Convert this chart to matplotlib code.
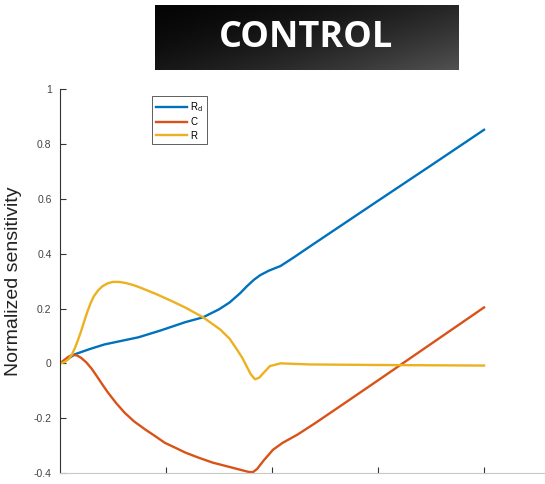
import numpy as np
import matplotlib
matplotlib.use("Agg")
import matplotlib.pyplot as plt

# sensitivity curves (x in arbitrary time units)
x_rd = [0, 0.07, 0.14, 0.28, 0.42, 0.58, 0.74, 0.95, 1.18, 1.35, 1.50, 1.60,
        1.70, 1.76, 1.83, 1.89, 1.97, 2.08, 2.20, 2.36, 3.0, 3.5, 4.0]
rd = [0, 0.015, 0.033, 0.052, 0.069, 0.082, 0.095, 0.120, 0.150, 0.168, 0.197, 0.222,
      0.256, 0.280, 0.305, 0.322, 0.338, 0.355, 0.385, 0.427, 0.593, 0.722, 0.852]

x_c = [0, 0.04, 0.08, 0.12, 0.16, 0.20, 0.25, 0.30, 0.35, 0.40, 0.45, 0.53, 0.61, 0.70,
       0.80, 0.90, 0.99, 1.10, 1.18, 1.30, 1.44, 1.60, 1.72, 1.78, 1.82, 1.86,
       1.92, 2.01, 2.10, 2.24, 2.40, 2.64, 3.0, 3.5, 4.0]
c = [0, 0.012, 0.024, 0.031, 0.029, 0.020, 0.003, -0.020, -0.048, -0.077, -0.105, -0.145,
     -0.180, -0.212, -0.240, -0.266, -0.290, -0.310, -0.325, -0.343, -0.362, -0.378, -0.390,
     -0.396, -0.397, -0.385, -0.355, -0.315, -0.290, -0.260, -0.220, -0.157, -0.062,
     0.071, 0.204]

x_r = [0, 0.04, 0.08, 0.11, 0.14, 0.17, 0.20, 0.23, 0.26, 0.29, 0.32, 0.36, 0.40, 0.45,
       0.50, 0.56, 0.62, 0.68, 0.74, 0.90, 1.05, 1.18, 1.35, 1.51, 1.60, 1.67, 1.72,
       1.76, 1.80, 1.84, 1.88, 1.92, 1.98, 2.08, 2.36, 3.0, 3.5, 4.0]
r = [0, 0.004, 0.015, 0.030, 0.055, 0.085, 0.118, 0.155, 0.190, 0.220, 0.245, 0.266,
     0.281, 0.292, 0.297, 0.297, 0.293, 0.287, 0.279, 0.254, 0.228, 0.204, 0.168, 0.124,
     0.090, 0.050, 0.020, -0.010, -0.040, -0.058, -0.052, -0.035, -0.010, 0.0, -0.004,
     -0.006, -0.007, -0.008]

yticks = [-0.4, -0.2, 0, 0.2, 0.4, 0.6, 0.8, 1]
ytick_labels = ["-0.4", "-0.2", "0", "0.2", "0.4", "0.6", "0.8", "1"]
xticks = [1, 2, 3, 4]

plt.rcParams['font.family'] = ['Liberation Sans', 'DejaVu Sans']

fig = plt.figure(figsize=(5.45, 4.84), dpi=100)

# title banner with dark gradient
tax = fig.add_axes([0.284, 0.855, 0.556, 0.135])
gx, gy = np.meshgrid(np.linspace(0, 1, 200), np.linspace(0, 1, 50))
grad = 0.02 + 0.30 * (0.6 * gx + 0.4 * gy) ** 1.6
tax.imshow(grad, cmap='gray', vmin=0, vmax=1, aspect='auto', extent=[0, 1, 1, 0])
tax.set_xlim(0, 1)
tax.set_ylim(1, 0)
tax.axis('off')
tax.text(0.5, 0.5, "CONTROL", color='white', fontsize=26, fontweight='bold',
         family='Open Sans', ha='center', va='center', transform=tax.transAxes)

ax = fig.add_axes([0.110, 0.0227, 0.890, 0.793])
ax.plot(x_rd, rd, color='#0072BD', lw=1.7, label=r'R$_\mathrm{d}$')
ax.plot(x_c, c, color='#D95319', lw=1.7, label='C')
ax.plot(x_r, r, color='#EDB120', lw=1.7, label='R')

ax.set_xlim(0, 4.575)
ax.set_ylim(-0.4, 1)
ax.set_xticks(xticks)
ax.set_xticklabels([])
ax.set_yticks(yticks)
ax.set_yticklabels(ytick_labels)
ax.tick_params(direction='in', length=4, width=0.8, colors='#333333', labelsize=7.5)
ax.tick_params(axis='y', labelcolor='#444444', pad=6)
ax.spines['top'].set_visible(False)
ax.spines['right'].set_visible(False)
ax.spines['left'].set_color('#333333')
ax.spines['bottom'].set_color('#c8c8c8')
ax.set_ylabel("Normalized sensitivity", fontsize=14, color='#222222')
ax.yaxis.set_label_coords(-0.078, 0.5)

leg = ax.legend(loc='upper left', bbox_to_anchor=(0.19, 0.982), borderaxespad=0,
                fontsize=7, handlelength=3.2, handletextpad=0.3, labelspacing=0.35,
                fancybox=False, framealpha=1, borderpad=0.4)
leg.get_frame().set_edgecolor('#444444')
leg.get_frame().set_linewidth(0.6)

fig.savefig("out.png", dpi=100)
